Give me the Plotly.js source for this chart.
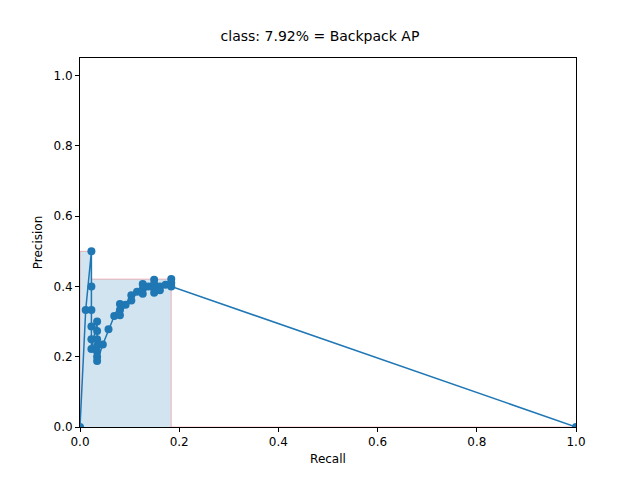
<!DOCTYPE html>
<html>
<head>
<meta charset="utf-8">
<script src="https://cdn.plot.ly/plotly-3.0.1.min.js"></script>
<style>html,body{margin:0;padding:0;background:#fff;}#chart{width:640px;height:480px;}</style>
</head>
<body>
<div id="chart"></div>
<script>
// precision / recall points
const recall = [0, 0.0115, 0.023, 0.023, 0.023, 0.023, 0.023, 0.023,
  0.0345, 0.0345, 0.0345, 0.0345, 0.0345, 0.0345, 0.0345,
  0.046, 0.0575, 0.069, 0.0805, 0.0805, 0.0805, 0.092, 0.1035, 0.1035,
  0.115, 0.1265, 0.1265, 0.1265, 0.138, 0.1495, 0.1495, 0.1495, 0.1495,
  0.161, 0.161, 0.1725, 0.184, 0.184, 0.184, 1.0];
const precision = [0, 0.333, 0.5, 0.4, 0.333, 0.286, 0.25, 0.222,
  0.3, 0.273, 0.25, 0.231, 0.214, 0.2, 0.188,
  0.235, 0.278, 0.316, 0.35, 0.333, 0.318, 0.348, 0.375, 0.36,
  0.385, 0.407, 0.393, 0.379, 0.4, 0.419, 0.406, 0.394, 0.382,
  0.4, 0.389, 0.405, 0.421, 0.41, 0.4, 0];

// interpolated (envelope) area
const areaX = [0, 0, 0.023, 0.023, 0.184, 0.184, 1, 1];
const areaY = [0, 0.5, 0.5, 0.421, 0.421, 0, 0, 0];

const traces = [
  {
    x: areaX, y: areaY, type: 'scatter', mode: 'lines',
    fill: 'toself', fillcolor: 'rgba(31,119,180,0.2)',
    line: { color: 'rgba(255,0,0,0.25)', width: 1 },
    hoverinfo: 'skip',
  },
  {
    x: recall, y: precision, type: 'scatter', mode: 'lines+markers',
    line: { color: '#1f77b4', width: 1.5 },
    marker: { color: '#1f77b4', size: 8 },
    cliponaxis: true,
  },
];

const axisBase = {
  showgrid: false, zeroline: false, showline: true, mirror: true,
  linecolor: '#000', linewidth: 1, ticks: 'outside', ticklen: 4,
  tickcolor: '#000', tickfont: { size: 12, color: '#000' },
  tickformat: '.1f', dtick: 0.2,
};

const layout = {
  width: 640, height: 480,
  paper_bgcolor: '#fff', plot_bgcolor: '#fff',
  font: { family: 'DejaVu Sans, sans-serif', color: '#000', size: 12 },
  showlegend: false,
  margin: { l: 80, r: 64, t: 58, b: 53 },
  title: { text: 'class: 7.92% = Backpack AP', font: { size: 14 }, x: 0.5, xanchor: 'center', y: 0.925, yanchor: 'middle' },
  xaxis: { ...axisBase, range: [0, 1], title: { text: 'Recall', font: { size: 12 }, standoff: 6 } },
  yaxis: { ...axisBase, range: [0, 1.05], title: { text: 'Precision', font: { size: 12 }, standoff: 8 } },
};

Plotly.newPlot('chart', traces, layout, { displayModeBar: false, staticPlot: true });
</script>
</body>
</html>
